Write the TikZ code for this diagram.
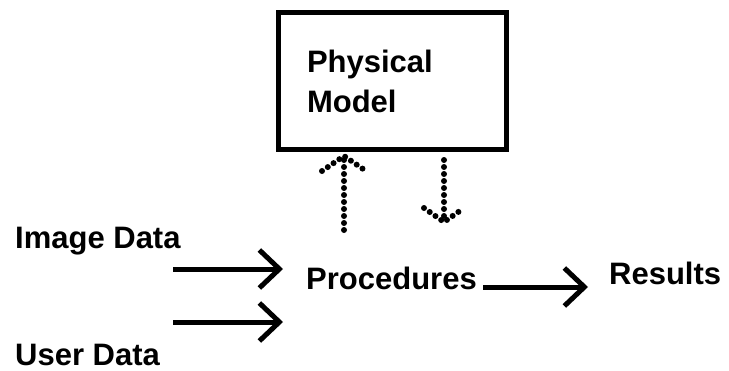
\documentclass[tikz,border=0pt]{standalone}
\usepackage{fontspec}
\setmainfont{Liberation Sans}
\usetikzlibrary{arrows.meta}

\begin{document}
\begin{tikzpicture}[x=1pt, y=-1pt,
    lbl/.style={font=\fontsize{31}{40}\selectfont\bfseries, inner sep=0pt, anchor=base west},
    flow/.style={line width=5pt, -{Straight Barb[length=20pt, width=38pt]}},
    dotline/.style={line width=6pt, line cap=round, dash pattern=on 0pt off 7pt}]
    \useasboundingbox (0,0) rectangle (729,370);

    % box for the model
    \node[draw, line width=5pt, minimum width=228pt, minimum height=137pt,
          inner sep=0pt, text width=170pt, align=left,
          font=\fontsize{31}{40}\selectfont\bfseries] (model) at (392,81) {Physical\\Model};

    % labels
    \node[lbl] (imgdata) at (15,248) {Image Data};
    \node[lbl] (userdata) at (15,365) {User Data};
    \node[lbl] (proc) at (306,289) {Procedures};
    \node[lbl] (results) at (609,284) {Results};

    % inputs
    \coordinate (in1) at (173,269);
    \coordinate (in2) at (173,322);
    \coordinate (out) at (483,287);
    \draw[flow] (in1) -- (283,269);
    \draw[flow] (in2) -- (283,322);
    \draw[flow, shorten >=21pt] (out) -- (out -| results.west);

    % dotted links with the model
    \coordinate (upfoot) at (344,230);
    \coordinate (uptip) at (344,156);
    \coordinate (downtop) at (444,160);
    \coordinate (downtip) at (444,222);
    \draw[dotline] (upfoot) -- (uptip);
    \draw[dotline] (uptip) ++(-22,15) -- (uptip) -- ++(22,15);
    \draw[dotline] (downtop) -- (downtip);
    \draw[dotline] (downtip) ++(-20,-14) -- (downtip) -- ++(20,-14);
\end{tikzpicture}
\end{document}
